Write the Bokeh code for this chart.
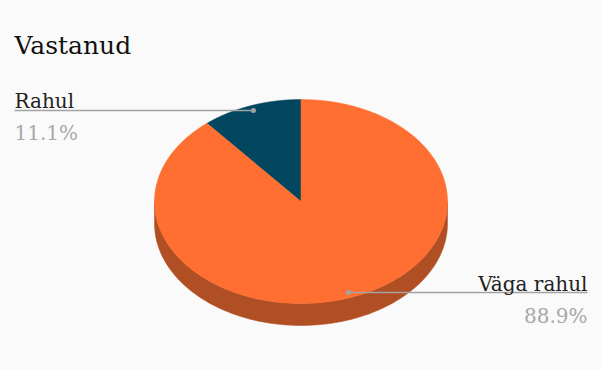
import numpy as np
from bokeh.plotting import figure
from bokeh.models import Range1d
from bokeh.core.properties import value
from bokeh.embed import file_html
from bokeh.resources import INLINE

title = "Vastanud"
labels = ["Rahul", "Väga rahul"]
shares = [11.1, 88.9]
colors = ["#02475f", "#ff6f31"]
side_colors = ["#01303f", "#b04f23"]

FONT = value("DejaVu Serif")

W, H = 601, 370
p = figure(width=W, height=H, x_range=Range1d(0, W), y_range=Range1d(H, 0),
           output_backend="svg", toolbar_location=None, min_border=0)
p.axis.visible = False
p.grid.visible = False
p.outline_line_color = None
p.background_fill_color = "#fafafa"
p.border_fill_color = "#fafafa"

cx, cy, rx, ry, depth = 300.5, 201.0, 146.5, 102.0, 22.0
total = sum(shares)
bounds = np.cumsum([0] + shares) / total * 2 * np.pi + np.pi / 2

# side (front visible part)
for i in range(len(shares)):
    a0, a1 = bounds[i], bounds[i + 1]
    for k in (-1, 0, 1):
        lo = max(a0, np.pi + 2 * np.pi * k)
        hi = min(a1, 2 * np.pi + 2 * np.pi * k)
        if hi <= lo:
            continue
        t = np.linspace(lo, hi, 200)
        xt = cx + rx * np.cos(t)
        yt = cy - ry * np.sin(t)
        xs = np.concatenate([xt, xt[::-1]])
        ys = np.concatenate([yt, yt[::-1] + depth])
        p.patch(xs, ys, fill_color=side_colors[i], line_color=side_colors[i], line_width=0.5)

# top face
for i in range(len(shares)):
    a0, a1 = bounds[i], bounds[i + 1]
    t = np.linspace(a0, a1, 300)
    xs = np.concatenate([[cx], cx + rx * np.cos(t)])
    ys = np.concatenate([[cy], cy - ry * np.sin(t)])
    p.patch(xs, ys, fill_color=colors[i], line_color=colors[i], line_width=0.5)

# title
p.text([14], [45], text=[title], text_font=FONT,
       text_font_size="25px", text_color="#111111", text_baseline="alphabetic",
       text_align="left")

# labels with leaders
for i in range(len(shares)):
    m = (bounds[i] + bounds[i + 1]) / 2
    px = cx + 0.95 * rx * np.cos(m)
    py = cy - 0.95 * ry * np.sin(m)
    left = np.cos(m) < 0
    ex = 14 if left else 587
    p.line([px, ex], [py, py], line_color="#a3a3a3", line_width=1.5)
    p.scatter([px], [py], size=5, fill_color="#a3a3a3", line_color=None)
    align = "left" if left else "right"
    p.text([ex], [py - 9], text=[labels[i]], text_font=FONT,
           text_font_size="20px", text_color="#222222", text_baseline="alphabetic",
           text_align=align)
    pct = f"{shares[i] / total * 100:.1f}%"
    p.text([ex], [py + 23], text=[pct], text_font=FONT,
           text_font_size="20px", text_color="#a8a8a8", text_baseline="alphabetic",
           text_align=align)

open("out.html", "w").write(file_html(p, INLINE))
